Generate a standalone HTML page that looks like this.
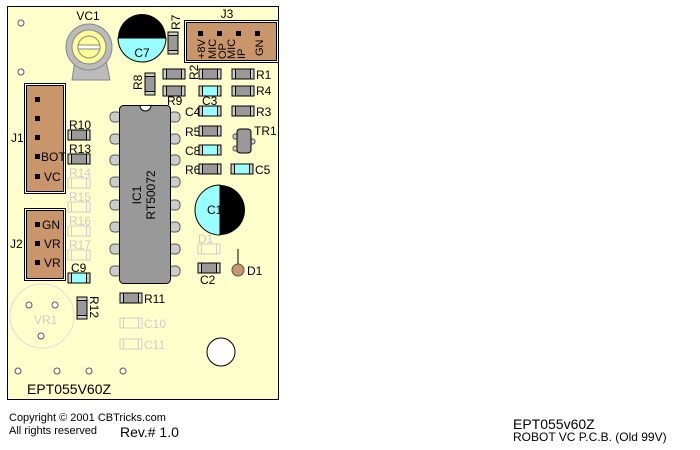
<!DOCTYPE html>
<html><head><meta charset="utf-8"><style>
body{margin:0;background:#fff;width:700px;height:450px;overflow:hidden}
svg{display:block;font-family:"Liberation Sans",sans-serif}
</style></head><body>
<svg width="700" height="450" viewBox="0 0 700 450" xmlns="http://www.w3.org/2000/svg">
<defs>
<g id="res"><rect x="0" y="0" width="22" height="10" fill="#999" stroke="#000" stroke-width="1"/><rect x="0.5" y="0.5" width="3" height="9" fill="#ccc"/><rect x="18.5" y="0.5" width="3" height="9" fill="#ccc"/><line x1="3.5" y1="0" x2="3.5" y2="10" stroke="#000"/><line x1="18.5" y1="0" x2="18.5" y2="10" stroke="#000"/></g>
<g id="cap"><rect x="0" y="0" width="22" height="10" fill="#99ffff" stroke="#000" stroke-width="1"/><rect x="0.5" y="0.5" width="3" height="9" fill="#ccc"/><rect x="18.5" y="0.5" width="3" height="9" fill="#ccc"/><line x1="3.5" y1="0" x2="3.5" y2="10" stroke="#000"/><line x1="18.5" y1="0" x2="18.5" y2="10" stroke="#000"/></g>
<g id="ghost"><rect x="0" y="0" width="22" height="10" fill="none" stroke="#ccc" stroke-width="1"/><line x1="3.5" y1="0" x2="3.5" y2="10" stroke="#ccc"/><line x1="18.5" y1="0" x2="18.5" y2="10" stroke="#ccc"/></g>
<g id="vres"><rect x="0" y="0" width="10" height="22" fill="#999" stroke="#000"/><rect x="0.5" y="0.5" width="9" height="3" fill="#ccc"/><rect x="0.5" y="18.5" width="9" height="3" fill="#ccc"/><line x1="0" y1="3.5" x2="10" y2="3.5" stroke="#000"/><line x1="0" y1="18.5" x2="10" y2="18.5" stroke="#000"/></g>
<rect id="lp" x="0" y="0" width="11" height="10" rx="4" fill="#ccc" stroke="#555"/>
</defs>
<rect x="7.5" y="6.5" width="271" height="393" fill="#ffffcc" stroke="#000" stroke-width="1"/>
<g fill="#fff" stroke="#555"><circle cx="21" cy="23" r="3"/><circle cx="21" cy="72" r="3"/><circle cx="18" cy="371" r="3"/><circle cx="57" cy="371" r="3"/><circle cx="89" cy="371" r="3"/><circle cx="123" cy="371" r="3"/></g>
<!-- VC1 -->
<path d="M75 60 L72 80 L110 80 L106 60 Z" fill="#bbb" stroke="#888"/>
<circle cx="89" cy="47" r="23" fill="#bbb" stroke="#888"/>
<circle cx="89" cy="47" r="17" fill="#ffff99" stroke="#888"/>
<circle cx="89" cy="47" r="11" fill="#ffff99" stroke="#888"/>
<rect x="78" y="45" width="22" height="4" fill="#fff" stroke="#888"/>
<text x="88" y="20" font-size="12" text-anchor="middle">VC1</text>
<!-- C7 -->
<path d="M118 38 A24 24 0 0 1 166 38 Z" fill="#000"/>
<path d="M118 38 A24 24 0 0 0 166 38 Z" fill="#99ffff" stroke="#000"/>
<text x="142" y="57" font-size="12" text-anchor="middle">C7</text>
<use href="#vres" x="168" y="32"/>
<text x="0" y="0" font-size="12" transform="translate(180,30) rotate(-90)">R7</text>
<!-- J3 -->
<text x="227" y="18" font-size="12" text-anchor="middle">J3</text>
<rect x="184.5" y="20.5" width="94" height="42" fill="#fff" stroke="#000"/>
<rect x="186.5" y="22.5" width="90" height="38" fill="#c8966a" stroke="#000"/>
<g fill="#000"><rect x="198" y="31" width="5" height="5"/><rect x="217" y="31" width="5" height="5"/><rect x="236" y="31" width="5" height="5"/><rect x="255" y="31" width="5" height="5"/></g>
<g font-size="11">
<text transform="translate(205,59) rotate(-90)">+8V</text>
<text transform="translate(216,59) rotate(-90)">MIC</text>
<text transform="translate(226,59) rotate(-90)">OP</text>
<text transform="translate(235,59) rotate(-90)">MIC</text>
<text transform="translate(245,59) rotate(-90)">IP</text>
<text transform="translate(263,56) rotate(-90)">GN</text>
</g>
<use href="#vres" x="145" y="73"/>
<text font-size="12" transform="translate(142,90) rotate(-90)">R8</text>
<use href="#res" x="163" y="69"/><use href="#res" x="199" y="69"/><use href="#res" x="232" y="69"/>
<text font-size="12" transform="translate(198,80) rotate(-90)">R2</text>
<text x="256" y="79" font-size="12">R1</text>
<use href="#res" x="163" y="86"/><use href="#cap" x="199" y="86"/><use href="#res" x="232" y="86"/>
<text x="256" y="95" font-size="12">R4</text>
<text x="167" y="105" font-size="12">R9</text>
<text x="202" y="105" font-size="12">C3</text>
<text x="185" y="116" font-size="12">C4</text><use href="#cap" x="199" y="106"/>
<use href="#res" x="232" y="106"/><text x="256" y="116" font-size="12">R3</text>
<text x="185" y="136" font-size="12">R5</text><use href="#res" x="199" y="126"/>
<text x="185" y="155" font-size="12">C8</text><use href="#cap" x="199" y="145"/>
<text x="185" y="174" font-size="12">R6</text><use href="#res" x="199" y="164"/>
<use href="#cap" x="231" y="164"/><text x="255" y="174" font-size="12">C5</text>
<!-- TR1 -->
<rect x="233" y="134" width="5" height="5" rx="2" fill="#ccc" stroke="#555"/>
<rect x="233" y="146" width="5" height="5" rx="2" fill="#ccc" stroke="#555"/>
<rect x="250" y="139" width="5" height="5" rx="2" fill="#ccc" stroke="#555"/>
<rect x="237" y="129" width="14" height="24" rx="3" fill="#999" stroke="#000"/>
<text x="254" y="135" font-size="12">TR1</text>
<!-- J1 -->
<rect x="24.5" y="83.5" width="41" height="110" fill="#fff" stroke="#000"/>
<rect x="26.5" y="85.5" width="37" height="106" fill="#c8966a" stroke="#000"/>
<g fill="#000"><rect x="35" y="97" width="5" height="5"/><rect x="35" y="116" width="5" height="5"/><rect x="35" y="135" width="5" height="5"/><rect x="35" y="154" width="5" height="5"/><rect x="35" y="174" width="5" height="5"/></g>
<text x="41" y="161" font-size="12">BOT</text><text x="44" y="181" font-size="12">VC</text>
<text x="11" y="142" font-size="12">J1</text>
<text x="69" y="129" font-size="12">R10</text><use href="#res" x="68" y="130"/>
<text x="69" y="153" font-size="12">R13</text><use href="#res" x="68" y="154"/>
<g fill="#ccc" font-size="12"><text x="69" y="177">R14</text><text x="69" y="201">R15</text><text x="69" y="225">R16</text><text x="69" y="249">R17</text></g>
<use href="#ghost" x="68" y="178"/><use href="#ghost" x="68" y="202"/><use href="#ghost" x="68" y="226"/><use href="#ghost" x="68" y="250"/>
<text x="71" y="272" font-size="12">C9</text><use href="#cap" x="68" y="273"/>
<!-- J2 -->
<rect x="24.5" y="208.5" width="41" height="72" fill="#fff" stroke="#000"/>
<rect x="26.5" y="210.5" width="37" height="68" fill="#c8966a" stroke="#000"/>
<g fill="#000"><rect x="35" y="222" width="5" height="5"/><rect x="35" y="241" width="5" height="5"/><rect x="35" y="260" width="5" height="5"/></g>
<g font-size="12"><text x="42" y="229">GN</text><text x="44" y="248">VR</text><text x="44" y="267">VR</text><text x="10" y="248">J2</text></g>
<!-- IC1 -->
<g>
<use href="#lp" x="110" y="112"/><use href="#lp" x="110" y="134"/><use href="#lp" x="110" y="155"/><use href="#lp" x="110" y="177"/><use href="#lp" x="110" y="200"/><use href="#lp" x="110" y="222"/><use href="#lp" x="110" y="244"/><use href="#lp" x="110" y="266"/>
<use href="#lp" x="169" y="112"/><use href="#lp" x="169" y="134"/><use href="#lp" x="169" y="155"/><use href="#lp" x="169" y="177"/><use href="#lp" x="169" y="200"/><use href="#lp" x="169" y="222"/><use href="#lp" x="169" y="244"/><use href="#lp" x="169" y="266"/>
</g>
<rect x="119.5" y="105.5" width="51" height="178" rx="4" fill="#999" stroke="#000"/>
<path d="M140 105.5 A5.5 5.5 0 0 0 151 105.5 Z" fill="#fff" stroke="#000"/>
<text font-size="12" text-anchor="middle" transform="translate(141,195) rotate(-90)">IC1</text>
<text font-size="12" text-anchor="middle" transform="translate(155,195) rotate(-90)">RT50072</text>
<!-- C1 -->
<path d="M220 185 A25 25 0 0 0 220 235 Z" fill="#99ffff" stroke="#000"/>
<path d="M220 185 A25 25 0 0 1 220 235 Z" fill="#000"/>
<text x="207" y="214" font-size="12">C1</text>
<text x="198" y="243" font-size="12" fill="#ccc">D1</text><use href="#ghost" x="198" y="244"/>
<use href="#res" x="198" y="263"/><text x="200" y="284" font-size="12">C2</text>
<line x1="238" y1="249" x2="238" y2="265" stroke="#000"/>
<circle cx="238" cy="270" r="6" fill="#c8966a" stroke="#555"/>
<text x="247" y="275" font-size="12">D1</text>
<!-- VR1 -->
<circle cx="42" cy="316" r="32" fill="none" stroke="#ddd"/>
<g fill="#fff" stroke="#555"><circle cx="29" cy="305" r="3"/><circle cx="55" cy="305" r="3"/><circle cx="41" cy="336" r="3"/></g>
<text x="34" y="324" font-size="12" fill="#ccc">VR1</text>
<use href="#vres" x="77" y="297"/>
<text font-size="12" transform="translate(90,296) rotate(90)">R12</text>
<use href="#res" x="120" y="293"/><text x="144" y="303" font-size="12">R11</text>
<use href="#ghost" x="120" y="318"/><text x="144" y="328" font-size="12" fill="#ccc">C10</text>
<use href="#ghost" x="120" y="339"/><text x="144" y="349" font-size="12" fill="#ccc">C11</text>
<circle cx="221" cy="352" r="14" fill="#fff" stroke="#000"/>
<text x="27" y="394" font-size="14">EPT055V60Z</text>
<text x="9" y="421" font-size="11">Copyright © 2001 CBTricks.com</text>
<text x="9" y="434" font-size="11">All rights reserved</text>
<text x="120" y="437" font-size="14">Rev.# 1.0</text>
<text x="513" y="429" font-size="14">EPT055v60Z</text>
<text x="513" y="441" font-size="12">ROBOT VC P.C.B. (Old 99V)</text>
</svg>
</body></html>
